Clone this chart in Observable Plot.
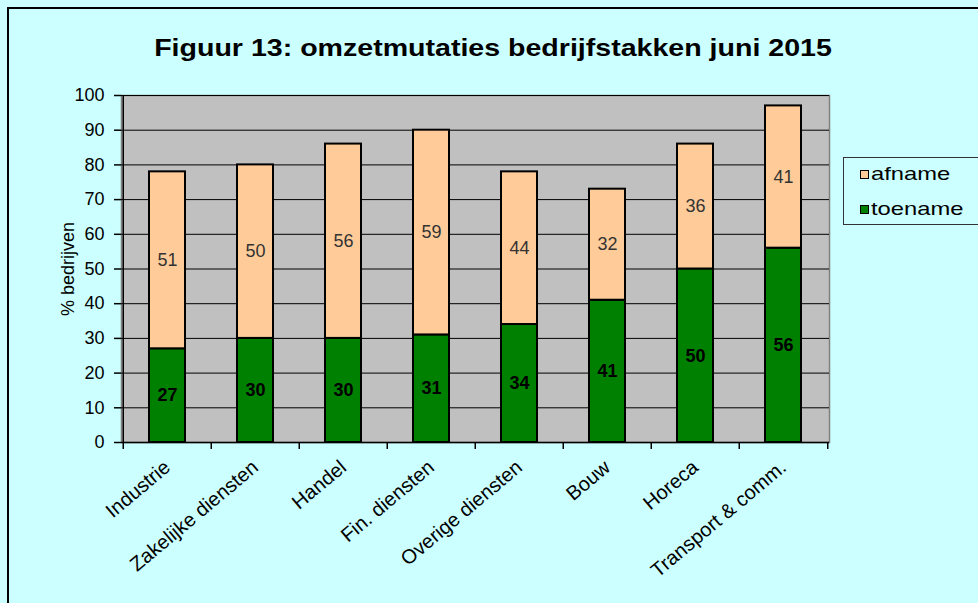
<!DOCTYPE html>
<html><head><meta charset="utf-8">
<script src="https://cdn.jsdelivr.net/npm/d3@7"></script>
<script src="https://cdn.jsdelivr.net/npm/@observablehq/plot@0.6"></script>
<style>
body{margin:0;background:#ccffff;}
#wrap{position:relative;width:978px;height:603px;background:#ccffff;overflow:hidden;font-family:"Liberation Sans",Arial,sans-serif;}
#border{position:absolute;left:7px;top:7px;width:1000px;height:700px;border-left:2px solid #000;border-top:2px solid #000;}
#title{position:absolute;left:0;width:986px;top:34px;text-align:center;font-weight:bold;font-size:24px;color:#000;transform:scaleX(1.19);transform-origin:493px 0;}
#chart{position:absolute;left:0;top:0;}
#legend{position:absolute;left:843px;top:157px;width:150px;height:66px;border:1px solid #333;}
.item{position:absolute;left:16px;font-size:19px;line-height:22px;color:#000;display:flex;align-items:center;}
.sw{display:inline-block;width:7px;height:7px;border:1px solid #000;margin-right:2px;}
.lt{display:inline-block;transform:scaleX(1.25);transform-origin:0 50%;}
</style></head>
<body>
<div id="wrap">
  <div id="border"></div>
  <div id="title">Figuur 13: omzetmutaties bedrijfstakken juni 2015</div>
  <div id="chart"></div>
  <div id="legend"></div>
</div>
<script>
const categories = ["Industrie","Zakelijke diensten","Handel","Fin. diensten","Overige diensten","Bouw","Horeca","Transport & comm."];
const toename = [27,30,30,31,34,41,50,56];
const afname = [51,50,56,59,44,32,36,41];
const yTicks = [0,10,20,30,40,50,60,70,80,90,100];
const seriesNames = ["afname","toename"];
const seriesColors = ["#ffcc99","#008000"];

const table = categories.map((c,i)=>({cat:c, toename:toename[i], afname:afname[i]}));

const W = 978, H = 603, mL = 121, mR = 149, mT = 95, mB = 161;
const step = (W - mL - mR) / categories.length;

const plot = Plot.plot({
  width: W, height: H,
  marginLeft: mL, marginRight: mR, marginTop: mT, marginBottom: mB,
  style: {background:"transparent", fontFamily:"Liberation Sans, Arial, sans-serif", fontSize:"18px", color:"#000"},
  x: {domain: categories, paddingInner: 0.59, paddingOuter: 0.295},
  y: {domain: [0, 100]},
  marks: [
    Plot.frame({fill:"#c0c0c0", stroke:"#808080", strokeWidth:1.5}),
    Plot.ruleY(yTicks.slice(1), {stroke:"#000", strokeWidth:1}),
    Plot.barY(table, {x:"cat", y1:0, y2:"toename", fill:seriesColors[1], stroke:"#000", strokeWidth:2}),
    Plot.barY(table, {x:"cat", y1:"toename", y2:d=>d.toename+d.afname, fill:seriesColors[0], stroke:"#000", strokeWidth:2}),
    Plot.text(table, {x:"cat", y:d=>d.toename/2, text:d=>String(d.toename), fontWeight:"bold", fill:"#000", fontSize:18}),
    Plot.text(table, {x:"cat", y:d=>d.toename+d.afname/2, text:d=>String(d.afname), fill:"#333", fontSize:18}),
    Plot.ruleY([0], {stroke:"#000", strokeWidth:1.5}),
    Plot.ruleX([categories[0]], {dx:-step/2, stroke:"#000", strokeWidth:1.5}),
    Plot.ruleX(categories, {x:d=>d, dx:-step/2, y1:0, y2:0, insetBottom:-7, stroke:"#000", strokeWidth:1.5}),
    Plot.ruleX([categories[categories.length-1]], {x:d=>d, dx:step/2, y1:0, y2:0, insetBottom:-7, stroke:"#000", strokeWidth:1.5}),
    Plot.axisY({ticks: yTicks, tickSize:7, tickPadding:10, fontSize:18, strokeWidth:1.5, label:"% bedrijven", labelAnchor:"center", labelOffset:60, labelArrow:"none"}),
    Plot.axisX({tickRotate:-40, tickSize:0, tickPadding:22, fontSize:20, label:null})
  ]
});
document.getElementById("chart").appendChild(plot);

const leg = document.getElementById("legend");
seriesNames.forEach((s,i)=>{
  const d = document.createElement("div");
  d.className = "item";
  d.style.top = (5 + i*35) + "px";
  d.innerHTML = `<span class="sw" style="background:${seriesColors[i]}"></span><span class="lt">${s}</span>`;
  leg.appendChild(d);
});
</script>
</body></html>
